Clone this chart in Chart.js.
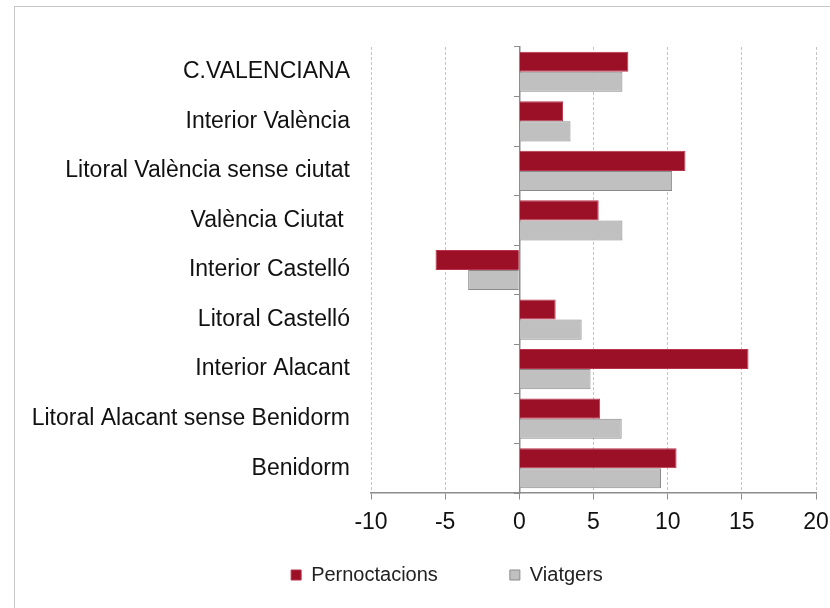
<!DOCTYPE html>
<html>
<head>
<meta charset="utf-8">
<script src="https://cdn.jsdelivr.net/npm/chart.js@4/dist/chart.umd.min.js"></script>
<style>
  body { margin: 0; background: #fff; }
  #wrap { position: relative; width: 830px; height: 608px; overflow: hidden; }
  #frame { position: absolute; left: 14px; top: 6px; width: 830px; height: 620px;
           border-left: 1px solid #c6c6c6; border-top: 1px solid #c6c6c6; }
  #chart { position: absolute; left: 0; top: 0; }
</style>
</head>
<body>
<div id="wrap">
  <div id="frame"></div>
  <canvas id="chart" width="830" height="608"></canvas>
</div>
<script>
var zones = ['C.VALENCIANA', 'Interior València', 'Litoral València sense ciutat', 'València Ciutat ',
  'Interior Castelló', 'Litoral Castelló', 'Interior Alacant', 'Litoral Alacant sense Benidorm', 'Benidorm'];
var pernoctacions = [7.35, 2.95, 11.2, 5.35, -5.65, 2.45, 15.45, 5.45, 10.6];
var viatgers = [6.95, 3.45, 10.3, 6.95, -3.45, 4.2, 4.8, 6.9, 9.55];
var xTicks = [-10, -5, 0, 5, 10, 15, 20];

var font = 'Liberation Sans, Arial, sans-serif';

// the category labels reach further left than the axis box, so widen its clip area
var widenLabels = {
  id: 'widenLabels',
  afterLayout: function(chart) {
    chart.scales.y.left = 0;
  }
};

var ctx = document.getElementById('chart').getContext('2d');
var chart = new Chart(ctx, {
  type: 'bar',
  data: {
    labels: zones,
    datasets: [
      {
        label: 'Pernoctacions',
        data: pernoctacions,
        backgroundColor: '#9b1026',
        borderColor: '#b8334b',
        borderWidth: 1,
        categoryPercentage: 0.81,
        barPercentage: 1.0
      },
      {
        label: 'Viatgers',
        data: viatgers,
        backgroundColor: '#c0c0c0',
        borderColor: '#8a8a8a',
        borderWidth: 1,
        categoryPercentage: 0.81,
        barPercentage: 1.0
      }
    ]
  },
  plugins: [widenLabels],
  options: {
    indexAxis: 'y',
    responsive: false,
    animation: false,
    devicePixelRatio: 1,
    layout: {
      padding: { left: 78, right: 14, top: 47, bottom: 13 }
    },
    plugins: {
      tooltip: { enabled: false },
      legend: {
        position: 'bottom',
        labels: {
          boxWidth: 10,
          boxHeight: 10,
          padding: 72,
          color: '#222',
          font: { family: font, size: 20 }
        }
      }
    },
    scales: {
      x: {
        position: { y: zones.length - 0.5 },
        min: xTicks[0],
        max: xTicks[xTicks.length - 1],
        afterBuildTicks: function(scale) {
          scale.ticks = xTicks.map(function(v) { return { value: v }; });
        },
        afterFit: function(scale) {
          scale.paddingLeft = 0;
          scale.paddingRight = 0;
        },
        grid: {
          color: '#c4c4c4',
          tickColor: '#8c8c8c',
          tickLength: 6
        },
        border: {
          display: true,
          color: '#8c8c8c',
          width: 1.5,
          dash: [3, 2]
        },
        ticks: {
          padding: 10,
          color: '#111',
          font: { family: font, size: 23 }
        }
      },
      y: {
        afterFit: function(scale) { scale.width = 293; },
        grid: { display: false, drawTicks: false },
        border: { display: false },
        ticks: {
          padding: 21,
          color: '#111',
          font: { family: font, size: 23 }
        }
      },
      y2: {
        type: 'category',
        axis: 'y',
        position: { x: 0 },
        afterFit: function(scale) { scale.width = 0; },
        grid: {
          drawOnChartArea: false,
          offset: true,
          tickLength: 5,
          tickColor: '#8c8c8c'
        },
        border: { display: true, color: '#8c8c8c', width: 1.5 },
        ticks: { display: false }
      }
    }
  }
});
</script>
</body>
</html>
